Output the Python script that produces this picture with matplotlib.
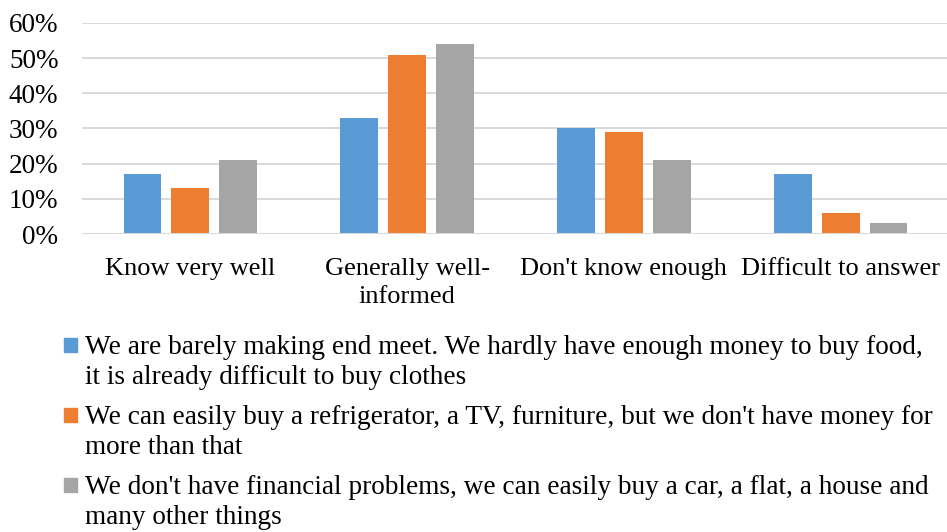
import matplotlib
matplotlib.use("Agg")
import numpy as np
import matplotlib.pyplot as plt
from matplotlib.patches import Rectangle

plt.rcParams['font.family'] = ['Liberation Serif', 'DejaVu Serif']

categories = ["Know very well", "Generally well-\ninformed", "Don't know enough", "Difficult to answer"]
barely = [17, 33, 30, 17]
easily_appliances = [13, 51, 29, 6]
no_problems = [21, 54, 21, 3]
series_labels = [
    "We are barely making end meet. We hardly have enough money to buy food,\nit is already difficult to buy clothes",
    "We can easily buy a refrigerator, a TV, furniture, but we don't have money for\nmore than that",
    "We don't have financial problems, we can easily buy a car, a flat, a house and\nmany other things",
]
yticks = [0, 10, 20, 30, 40, 50, 60]

colors = ["#5b9bd5", "#ed7d31", "#a5a5a5"]

fig = plt.figure(figsize=(9.47, 5.32), dpi=100)
# axes in figure fraction: x 82..949 px, y 23..234 px from top
ax = fig.add_axes([82 / 947, 1 - 234 / 532, (949 - 82) / 947, (234 - 23) / 532])

x = np.arange(len(categories))
width = 0.175
step = 0.221
for i, (vals, c) in enumerate(zip([barely, easily_appliances, no_problems], colors)):
    ax.bar(x + (i - 1) * step, vals, width, color=c, zorder=3)

ax.set_xlim(-0.5, len(categories) - 0.5)
ax.set_ylim(0, 60)
ax.set_yticks(yticks)
ax.set_yticklabels([f"{v}%" for v in yticks], fontsize=19.5)
ax.set_xticks(x)
ax.set_xticklabels(categories, fontsize=19, linespacing=1.4)
ax.tick_params(axis='both', length=0)
ax.tick_params(axis='x', pad=17)
ax.tick_params(axis='y', pad=17)
ax.grid(axis='y', color='#d9d9d9', linewidth=1.4, zorder=0)
for s in ax.spines.values():
    s.set_visible(False)
ax.axhline(0, color='#d9d9d9', linewidth=1.4, zorder=4)

# legend below the chart
entry_tops = [338, 408, 478]
for lab, c, yt in zip(series_labels, colors, entry_tops):
    fig.patches.append(Rectangle((64 / 947, 1 - (yt + 14) / 532), 13 / 947, 14 / 532,
                                 transform=fig.transFigure, color=c))
    fig.text(85 / 947, 1 - (yt - 3) / 532, lab, fontsize=19.6, va='top', ha='left',
             linespacing=1.25)

fig.savefig("out.png", dpi=100)
